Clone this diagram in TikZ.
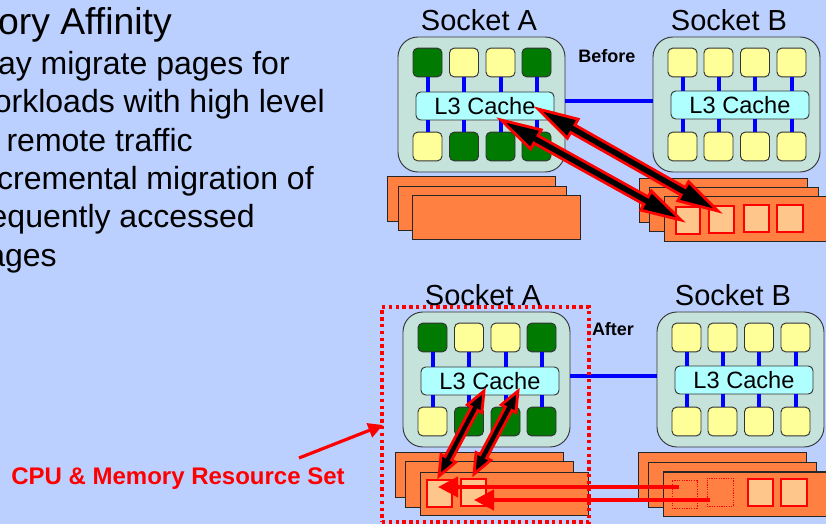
\documentclass[tikz,border=0pt]{standalone}
\usepackage{fontspec}
\setmainfont{Liberation Sans}
\usetikzlibrary{calc,arrows.meta}
\definecolor{bgblue}{HTML}{BBD0FF}
\definecolor{sockfill}{HTML}{C5E3DB}
\definecolor{coreyellow}{HTML}{FFFF99}
\definecolor{coregreen}{HTML}{007A00}
\definecolor{cachefill}{HTML}{B0FFFF}
\definecolor{memorange}{HTML}{FF8040}
\definecolor{pagefill}{HTML}{FFC68C}
\tikzset{
  x=0.75pt,y=-0.75pt,
  sockbox/.style={draw=black!80,line width=0.7pt,fill=sockfill,rounded corners=15pt,inner sep=0pt},
  cachebox/.style={draw=black!80,line width=0.7pt,fill=cachefill,rounded corners=3.5pt,inner sep=0pt,minimum width=103.5pt,minimum height=21pt,font=\fontsize{17.7}{20}\selectfont},
  coreY/.style={draw=black!80,line width=0.7pt,fill=coreyellow,rounded corners=3.5pt,inner sep=0pt,minimum width=21.75pt,minimum height=21.5pt},
  coreG/.style={coreY,fill=coregreen},
  memrect/.style={draw=black!85,line width=0.75pt,fill=memorange,inner sep=0pt},
  pagebox/.style={draw=red,line width=0.8pt,fill=pagefill,inner sep=0pt},
  pagedot/.style={draw=red,line width=0.55pt,dash pattern=on 0.9pt off 0.9pt,inner sep=0pt},
  buslink/.style={draw=blue,line width=3pt},
  dblarrow/.style={draw=red,line width=2.1pt,fill=black,miter limit=6},
  movearrow/.style={draw=red,line width=3pt,-{Triangle[length=15pt,width=15pt]}},
  setarrow/.style={draw=red,line width=2.4pt,-{Triangle[length=11pt,width=11pt]}},
  setbox/.style={draw=red,line width=2.5pt,dash pattern=on 2.5pt off 2.6pt,inner sep=0pt},
  bodytext/.style={inner sep=0pt,anchor=base east,font=\fontsize{24}{28}\selectfont,text=black},
  socklabel/.style={inner sep=0pt,anchor=base,font=\fontsize{21.75}{26}\selectfont,text=black},
  tag/.style={inner sep=0pt,anchor=base,font=\bfseries\fontsize{13.5}{16}\selectfont,text=black},
}
% #1 style, #2 name, #3-#6 x1 y1 x2 y2, #7 text
\newcommand\cornerbox[7]{%
  \pgfmathsetmacro\bw{(#5-#3)*0.75}\pgfmathsetmacro\bh{(#6-#4)*0.75}%
  \pgfmathsetmacro\bx{(#3+#5)/2}\pgfmathsetmacro\by{(#4+#6)/2}%
  \node[#1,minimum width=\bw pt,minimum height=\bh pt] (#2) at (\bx,\by) {#7};}
% #1 prefix, #2 x, #3 y, #4 top styles, #5 bottom styles, #6 cache y offset
\newcommand\socketunit[6]{%
  \begin{scope}[shift={(#2,#3)}]
    \cornerbox{sockbox}{#1box}{0}{0}{167}{135}{}
    \node[cachebox] (#1cache) at (87,#6) {L3 Cache};
    \foreach \cx/\cs [count=\ci] in {#4} {
      \node[\cs] (#1t\ci) at (\cx,25.5) {};
      \draw[buslink] (#1t\ci.south) -- (#1t\ci.south |- #1cache.north);
    }
    \foreach \cx/\cs [count=\ci] in {#5} {
      \node[\cs] (#1b\ci) at (\cx,109.5) {};
      \draw[buslink] (#1b\ci.north) -- (#1b\ci.north |- #1cache.south);
    }
  \end{scope}}
% #1,#2 ends, #3 head length, #4 head half width, #5 shaft half width
\newcommand\twoway[5]{%
  \draw[dblarrow] (#1)
    -- ($(#1)!#3!(#2)!#4!90:(#2)$)
    -- ($(#1)!#3!(#2)!#5!90:(#2)$)
    -- ($(#2)!#3!(#1)!#5!-90:(#1)$)
    -- ($(#2)!#3!(#1)!#4!-90:(#1)$)
    -- (#2)
    -- ($(#2)!#3!(#1)!#4!90:(#1)$)
    -- ($(#2)!#3!(#1)!#5!90:(#1)$)
    -- ($(#1)!#3!(#2)!#5!-90:(#2)$)
    -- ($(#1)!#3!(#2)!#4!-90:(#2)$)
    -- cycle;}
\begin{document}
\begin{tikzpicture}
\useasboundingbox (0,0) rectangle (826,524);
\clip (0,0) rectangle (826,524);
\fill[bgblue] (0,0) rectangle (826,524);

% left text
\node[bodytext,font=\fontsize{28}{32}\selectfont] (title) at (172,35) {ory Affinity};
\node[bodytext] (l1) at (290,75) {ay migrate pages for};
\node[bodytext] (l2) at (325,113) {orkloads with high level};
\node[bodytext] (l3) at (193,152) {remote traffic};
\node[bodytext] (l4) at (314,190) {cremental migration of};
\node[bodytext] (l5) at (255,228) {equently accessed};
\node[bodytext] (l6) at (57,267) {ages};

% BEFORE
\node[socklabel] (labA1) at (479,31) {Socket A};
\node[socklabel] (labB1) at (729,31) {Socket B};
\node[tag] (before) at (607,63) {Before};
\socketunit{a1}{398}{37}{29.5/coreG,66/coreY,102.5/coreY,138.5/coreG}{29.5/coreY,66/coreG,102.5/coreG,138.5/coreG}{69}
\socketunit{b1}{653}{37}{29.5/coreY,65.5/coreY,102/coreY,138.5/coreY}{29.5/coreY,65.5/coreY,102/coreY,138.5/coreY}{68}
\draw[buslink] (a1box.east |- 0,101) -- (b1box.west |- 0,101);

\cornerbox{memrect}{ma11}{387.5}{177}{555.5}{222}{}
\cornerbox{memrect}{ma12}{398}{187}{566}{231}{}
\cornerbox{memrect}{ma13}{412}{196}{580}{240}{}
\cornerbox{memrect}{mb11}{639}{179}{807}{223}{}
\cornerbox{memrect}{mb12}{649}{188}{818}{232}{}
\cornerbox{memrect}{mb13}{664}{197}{850}{242}{}
\cornerbox{pagebox}{p11}{676}{207}{700}{234}{}
\cornerbox{pagebox}{p12}{709}{206}{734}{233}{}
\cornerbox{pagebox}{p13}{744}{205}{769}{232}{}
\cornerbox{pagebox}{p14}{777}{205}{803}{232}{}

\coordinate (u1) at (538,109);
\coordinate (u2) at (718,211);
\coordinate (u3) at (501,120);
\coordinate (u4) at (681,220);
\twoway{u1}{u2}{30pt}{8.2pt}{3.2pt}
\twoway{u3}{u4}{30pt}{8.2pt}{3.2pt}

% AFTER
\node[socklabel] (labA2) at (483,306) {Socket A};
\node[socklabel] (labB2) at (733,306) {Socket B};
\node[tag] (after) at (613,336) {After};
\socketunit{a2}{403}{312}{29.5/coreG,66/coreY,102.5/coreY,138.5/coreG}{29.5/coreY,66/coreG,102.5/coreG,138.5/coreG}{69}
\socketunit{b2}{657}{312}{29.5/coreY,65.5/coreY,102/coreY,138.5/coreY}{29.5/coreY,65.5/coreY,102/coreY,138.5/coreY}{68}
\draw[buslink] (a2box.east |- 0,376) -- (b2box.west |- 0,376);

\cornerbox{memrect}{ma21}{395}{453}{563}{497}{}
\cornerbox{memrect}{ma22}{405}{462}{573}{507}{}
\cornerbox{memrect}{ma23}{420}{472}{588}{515}{}
\cornerbox{memrect}{mb21}{638}{453}{806}{498}{}
\cornerbox{memrect}{mb22}{648}{463}{816}{507}{}
\cornerbox{memrect}{mb23}{663}{472}{850}{516}{}
\cornerbox{pagebox}{pa1}{427}{480}{452}{507}{}
\cornerbox{pagebox}{pa2}{461}{479}{486}{506}{}
\cornerbox{pagedot}{pb1}{672}{480}{697}{508}{}
\cornerbox{pagedot}{pb2}{707}{478}{733}{506}{}
\cornerbox{pagebox}{pb3}{748}{479}{773}{506}{}
\cornerbox{pagebox}{pb4}{781}{479}{807}{506}{}

\cornerbox{setbox}{resset}{382}{307}{589}{522}{}

\coordinate (v1) at (484,391);
\coordinate (v2) at (439,476);
\coordinate (v3) at (518,391);
\coordinate (v4) at (474,474);
\twoway{v1}{v2}{15pt}{6.2pt}{2.8pt}
\twoway{v3}{v4}{15pt}{6.2pt}{2.8pt}

\coordinate (m1s) at (679,487);
\coordinate (m1e) at (438,487);
\coordinate (m2s) at (710,500);
\coordinate (m2e) at (474,500);
\draw[movearrow] (m1s) -- (m1e);
\draw[movearrow] (m2s) -- (m2e);

\node[inner sep=0pt,anchor=base,text=red,font=\bfseries\fontsize{18}{22}\selectfont] (setlabel) at (178,484) {CPU \& Memory Resource Set};
\coordinate (setstart) at (299,458);
\coordinate (settip) at (383,425);
\draw[setarrow] (setstart) -- (settip);
\end{tikzpicture}
\end{document}
